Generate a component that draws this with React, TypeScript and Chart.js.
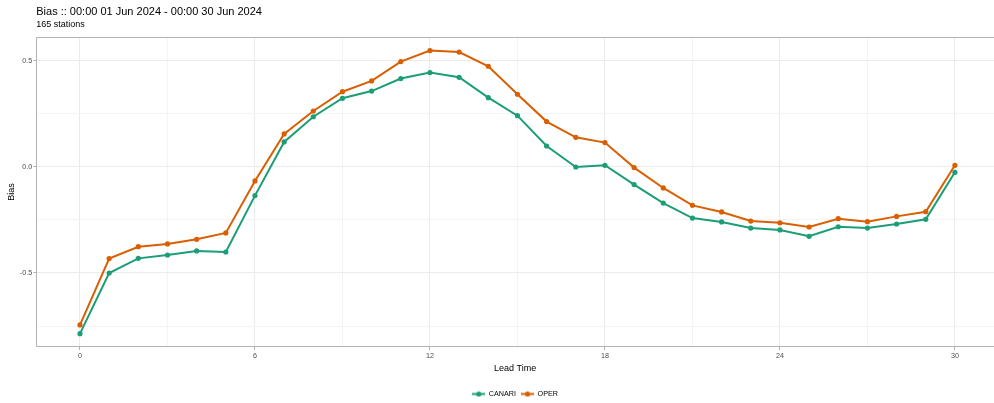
import React, { useEffect, useRef } from "react";
import { Chart, registerables } from "chart.js";

Chart.register(...registerables);

const leadTimes = [0, 1, 2, 3, 4, 5, 6, 7, 8, 9, 10, 11, 12, 13, 14, 15, 16, 17, 18, 19, 20, 21, 22, 23, 24, 25, 26, 27, 28, 29, 30];
const canariBias = [-0.786, -0.5, -0.431, -0.415, -0.396, -0.401, -0.135, 0.118, 0.237, 0.324, 0.358, 0.417, 0.445, 0.423, 0.327, 0.242, 0.099, 0.0, 0.008, -0.083, -0.17, -0.241, -0.259, -0.288, -0.297, -0.327, -0.282, -0.288, -0.269, -0.247, -0.025];
const operBias = [-0.745, -0.432, -0.376, -0.363, -0.341, -0.311, -0.066, 0.156, 0.264, 0.355, 0.406, 0.497, 0.549, 0.542, 0.475, 0.343, 0.214, 0.14, 0.115, -0.003, -0.099, -0.181, -0.212, -0.255, -0.263, -0.283, -0.244, -0.258, -0.233, -0.211, 0.008];
const seriesNames = ["CANARI", "OPER"];
const seriesColors = ["#1B9E77", "#D95F02"];
const xTickValues = [0, 3, 6, 9, 12, 15, 18, 21, 24, 27, 30];
const xLabelValues = [0, 6, 12, 18, 24, 30];
const yTickValues = [-0.75, -0.5, -0.25, 0, 0.25, 0.5];
const yLabelValues = [-0.5, 0, 0.5];
const titleText = "Bias :: 00:00 01 Jun 2024 - 00:00 30 Jun 2024";
const subtitleText = "165 stations";
const xTitle = "Lead Time";
const yTitle = "Bias";

const FONT = "'Liberation Sans', Arial, Helvetica, sans-serif";
const GRID_MAJOR = "#ebebeb";
const GRID_MINOR = "#f4f4f4";
const FRAME = "#b3b3b3";
const CANVAS_W = 994;
const CANVAS_H = 403;

function makeKey(color: string) {
  const c = document.createElement("canvas");
  c.width = 13;
  c.height = 7;
  const g = c.getContext("2d")!;
  g.strokeStyle = color;
  g.lineWidth = 2;
  g.beginPath();
  g.moveTo(0, 3.5);
  g.lineTo(13, 3.5);
  g.stroke();
  g.fillStyle = color;
  g.beginPath();
  g.arc(6.5, 3.5, 2.6, 0, Math.PI * 2);
  g.fill();
  return c;
}

const panelBorder = {
  id: "panelBorder",
  afterDatasetsDraw(chart: any) {
    const { ctx, chartArea } = chart;
    const { left, top, bottom } = chartArea;
    const l = Math.round(left) + 0.5;
    ctx.save();
    ctx.strokeStyle = FRAME;
    ctx.lineWidth = 1;
    ctx.beginPath();
    ctx.moveTo(chart.width + 2, top + 0.5);
    ctx.lineTo(l, top + 0.5);
    ctx.lineTo(l, bottom - 0.5);
    ctx.lineTo(chart.width + 2, bottom - 0.5);
    ctx.stroke();
    ctx.restore();
  },
};

const isMajorX = (v: number) => xLabelValues.some((m) => Math.abs(m - v) < 1e-9);
const isMajorY = (v: number) => yLabelValues.some((m) => Math.abs(m - v) < 1e-9);

export default function App() {
  const ref = useRef<HTMLCanvasElement | null>(null);

  useEffect(() => {
    document.body.style.margin = "0";
    document.body.style.overflow = "hidden";
    const canvas = ref.current;
    if (!canvas) return;
    const keys = seriesColors.map(makeKey);
    const series = [canariBias, operBias];

    const chart = new Chart(canvas, {
      type: "line",
      data: {
        datasets: series.map((vals, i) => ({
          label: seriesNames[i],
          data: leadTimes.map((x, j) => ({ x, y: vals[j] })),
          borderColor: seriesColors[i],
          backgroundColor: seriesColors[i],
          borderWidth: 2,
          pointRadius: 2.6,
          pointHoverRadius: 2.6,
          pointBorderWidth: 0,
          fill: false,
          tension: 0,
          order: i === 0 ? 1 : 0,
        })),
      },
      options: {
        responsive: false,
        animation: false,
        events: [],
        layout: { autoPadding: false, padding: { top: 0, left: 0, right: 0, bottom: -4.6 } },
        plugins: {
          tooltip: { enabled: false },
          title: {
            display: true,
            text: titleText,
            align: "start",
            fullSize: false,
            color: "#000",
            font: { family: FONT, size: 11, weight: "normal", lineHeight: 1.2 },
            padding: { top: 5, bottom: 0 },
          },
          subtitle: {
            display: true,
            text: subtitleText,
            align: "start",
            fullSize: false,
            color: "#000",
            font: { family: FONT, size: 9, weight: "normal", lineHeight: 1.2 },
            padding: { top: 1, bottom: 7 },
          },
          legend: {
            display: true,
            position: "bottom",
            fullSize: false,
            align: "center",
            labels: {
              usePointStyle: true,
              pointStyleWidth: 13,
              padding: 5,
              color: "#000",
              font: { family: FONT, size: 7.2 },
              sort: (a: any, b: any) => a.datasetIndex - b.datasetIndex,
              generateLabels: (c: any) => {
                const base = Chart.defaults.plugins.legend.labels.generateLabels(c);
                return base.map((item: any, i: number) => ({
                  ...item,
                  pointStyle: keys[item.datasetIndex ?? i],
                  fontColor: "#000",
                }));
              },
            },
          },
        },
        scales: {
          x: {
            type: "linear",
            min: -1.5,
            max: 31.34,
            afterFit: (scale: any) => {
              scale.height = 38.4;
              scale.paddingLeft = 0;
              scale.paddingRight = 0;
            },
            afterBuildTicks: (scale: any) => {
              scale.ticks = xTickValues.map((v) => ({ value: v }));
            },
            ticks: {
              autoSkip: false,
              maxRotation: 0,
              padding: 2,
              color: "#4d4d4d",
              font: { family: FONT, size: 7.2 },
              callback: (v: any) => (isMajorX(Number(v)) ? String(v) : ""),
            },
            grid: {
              drawTicks: true,
              tickLength: 3,
              lineWidth: 1,
              color: (ctx: any) => (isMajorX(ctx.tick?.value) ? GRID_MAJOR : GRID_MINOR),
              tickColor: (ctx: any) => (isMajorX(ctx.tick?.value) ? FRAME : "rgba(0,0,0,0)"),
            },
            border: { display: false },
            title: {
              display: true,
              text: xTitle,
              color: "#000",
              font: { family: FONT, size: 9, lineHeight: 1.2 },
              padding: { top: 0, bottom: 11 },
            },
          },
          y: {
            type: "linear",
            min: -0.849,
            max: 0.613,
            afterFit: (scale: any) => {
              scale.width = 36.25;
            },
            afterBuildTicks: (scale: any) => {
              scale.ticks = yTickValues.map((v) => ({ value: v }));
            },
            ticks: {
              autoSkip: false,
              padding: 1,
              color: "#4d4d4d",
              font: { family: FONT, size: 7.2 },
              callback: (v: any) => (isMajorY(Number(v)) ? Number(v).toFixed(1) : ""),
            },
            grid: {
              drawTicks: true,
              tickLength: 3,
              lineWidth: 1,
              color: (ctx: any) => (isMajorY(ctx.tick?.value) ? GRID_MAJOR : GRID_MINOR),
              tickColor: (ctx: any) => (isMajorY(ctx.tick?.value) ? FRAME : "rgba(0,0,0,0)"),
            },
            border: { display: false },
            title: {
              display: true,
              text: yTitle,
              color: "#000",
              font: { family: FONT, size: 9, lineHeight: 1.2 },
              padding: { top: 6.6, bottom: 0 },
            },
          },
        },
      },
      plugins: [panelBorder],
    } as any);

    return () => chart.destroy();
  }, []);

  return (
    <div style={{ width: CANVAS_W, height: CANVAS_H, overflow: "hidden" }}>
      <canvas ref={ref} width={CANVAS_W} height={CANVAS_H} style={{ width: CANVAS_W, height: CANVAS_H, display: "block" }} />
    </div>
  );
}
